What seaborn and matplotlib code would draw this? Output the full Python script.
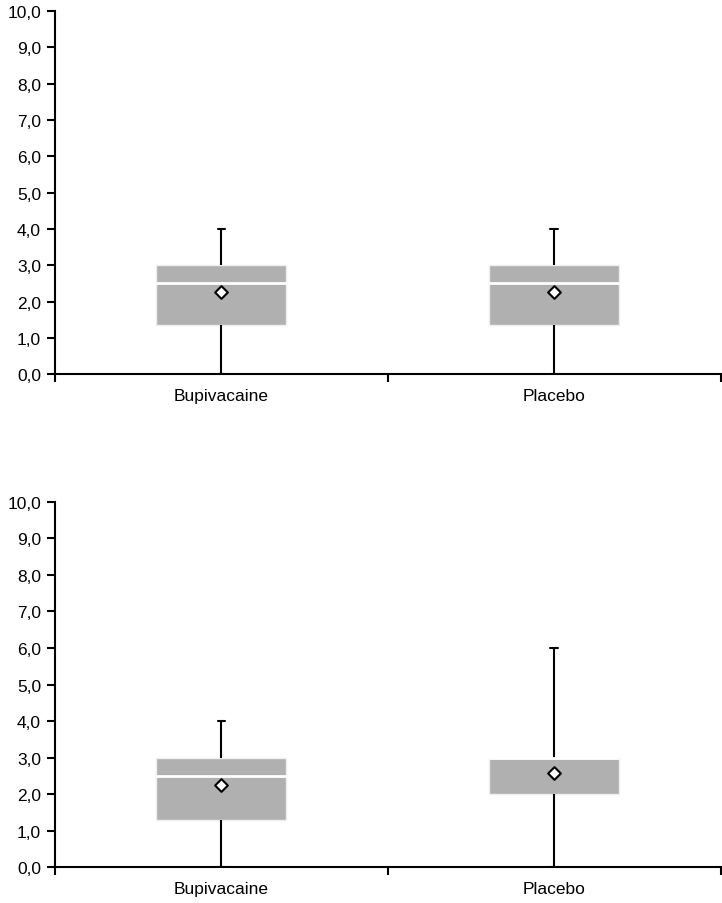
import pandas as pd
import matplotlib.pyplot as plt
import matplotlib.ticker as mticker
import seaborn as sns

# five-number summaries (min, Q1, median, Q3, max)
groups = ['Bupivacaine', 'Placebo']
top_summary = {'Bupivacaine': [0.0, 1.35, 2.5, 3.0, 4.0],
               'Placebo': [0.0, 1.35, 2.5, 3.0, 4.0]}
bottom_summary = {'Bupivacaine': [0.0, 1.3, 2.5, 3.0, 4.0],
                  'Placebo': [0.0, 2.0, 3.0, 3.0, 6.0]}
top_means = [2.25, 2.25]
bottom_means = [2.25, 2.57]

sns.set_style('white')
plt.rcParams['font.family'] = ['Liberation Sans', 'DejaVu Sans']
plt.rcParams['xtick.color'] = 'black'
plt.rcParams['ytick.color'] = 'black'
plt.rcParams['text.color'] = 'black'

fig = plt.figure(figsize=(7.22, 9.04), dpi=100)
ax_top = fig.add_axes([0.076, 0.585, 0.922, 0.4016])
ax_bot = fig.add_axes([0.076, 0.0398, 0.922, 0.4038])


def draw(ax, summary, means):
    df = pd.DataFrame([(g, v) for g in groups for v in summary[g]],
                      columns=['group', 'value'])
    sns.boxplot(data=df, x='group', y='value', order=groups, ax=ax,
                whis=(0, 100), width=0.39, color='#b0b0b0', saturation=1,
                linewidth=1.5, showfliers=False,
                boxprops=dict(facecolor='#b0b0b0', edgecolor='#eeeeee', linewidth=1),
                medianprops=dict(color='white', linewidth=2),
                whiskerprops=dict(color='black', linewidth=1.5),
                capprops=dict(color='black', linewidth=1.5))
    # narrow caps
    for line in ax.lines:
        xd = list(line.get_xdata())
        yd = list(line.get_ydata())
        if len(xd) == 2 and yd[0] == yd[1] and line.get_color() in ('black', 'k', '#000000'):
            c = (xd[0] + xd[1]) / 2
            line.set_xdata([c - 0.011, c + 0.011])
    mdf = pd.DataFrame({'group': groups, 'mean': means})
    sns.scatterplot(data=mdf, x='group', y='mean', ax=ax, marker='D', s=42,
                    color='white', edgecolor='black', linewidth=1.5, zorder=5)

    ax.set_xlim(-0.5, 1.5)
    ax.set_ylim(0, 10)
    ax.set_yticks(range(0, 11))
    ax.yaxis.set_major_formatter(mticker.FuncFormatter(lambda v, p: f'{v:.1f}'.replace('.', ',')))
    ax.set_xlabel('')
    ax.set_ylabel('')
    ax.xaxis.set_minor_locator(mticker.FixedLocator([-0.5, 0.5, 1.5]))
    ax.tick_params(axis='x', which='major', length=0, pad=10, labelsize=12.5)
    ax.tick_params(axis='x', which='minor', length=6, width=1.5, direction='out', bottom=True)
    ax.tick_params(axis='y', length=6, width=1.5, direction='out', left=True, labelsize=12.5, pad=4)
    for s in ['top', 'right']:
        ax.spines[s].set_visible(False)
    for s in ['left', 'bottom']:
        ax.spines[s].set_color('black')
        ax.spines[s].set_linewidth(1.5)
        ax.spines[s].set_zorder(6)


draw(ax_top, top_summary, top_means)
draw(ax_bot, bottom_summary, bottom_means)

fig.savefig('out.png', dpi=100)
